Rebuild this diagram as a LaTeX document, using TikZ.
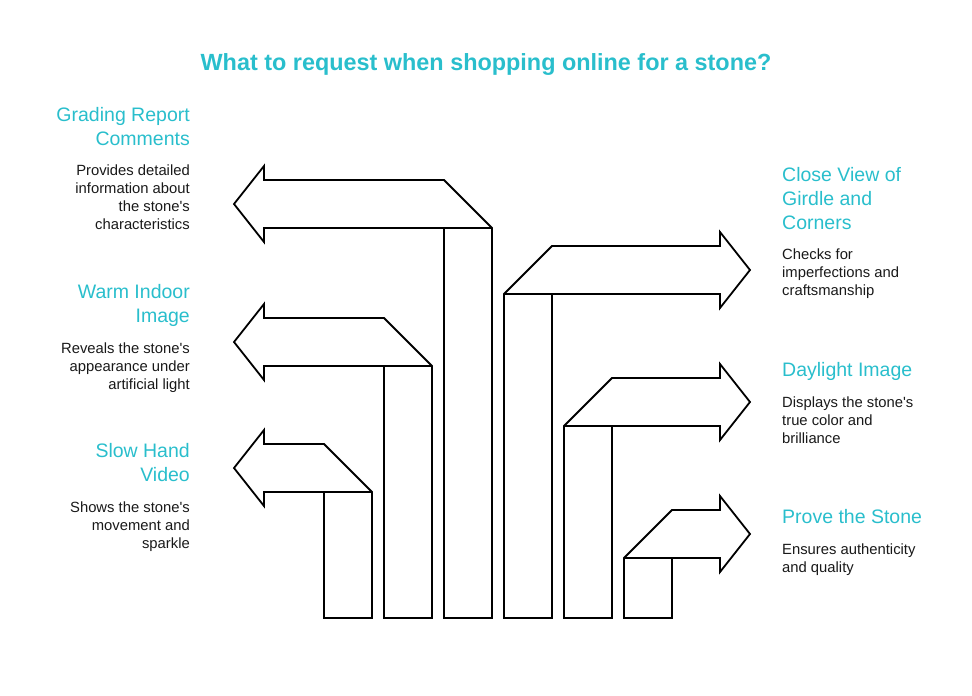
\documentclass[tikz,border=0pt]{standalone}
\usepackage{fontspec}
\setmainfont{Liberation Sans}[Ligatures=TeXOff]
\definecolor{stoneteal}{RGB}{41,190,204}
\tikzset{
  bent/.style={draw=black,line width=1.8pt,fill=white},
  headtext/.style={text=stoneteal,inner sep=0pt,font=\fontsize{19.5}{24}\selectfont},
  bodytext/.style={text=black!90,inner sep=0pt,font=\fontsize{14.8}{18}\selectfont},
}
\begin{document}
\begin{tikzpicture}[x=1pt,y=-1pt]
\useasboundingbox (0,0) rectangle (972,696);

\node[text=stoneteal,font=\bfseries\fontsize{23.4}{28}\selectfont] (title) at (486,65) {What to request when shopping online for a stone?};

% arrows pointing left
\foreach \xl/\yt in {444/228,384/366,324/492}{
  \draw[bent] (\xl,618) -- (\xl,\yt) -- (264,\yt) -- (264,{\yt+14}) -- (234,{\yt-24})
    -- (264,{\yt-62}) -- (264,{\yt-48}) -- ({\xl},{\yt-48}) -- ({\xl+48},\yt) -- ({\xl+48},618) -- cycle;
  \draw[bent] (\xl,\yt) -- ({\xl+48},\yt);
}
% arrows pointing right
\foreach \xl/\yt in {504/294,564/426,624/558}{
  \draw[bent] (\xl,618) -- (\xl,\yt) -- ({\xl+48},{\yt-48}) -- (720,{\yt-48}) -- (720,{\yt-62})
    -- (750,{\yt-24}) -- (720,{\yt+14}) -- (720,\yt) -- ({\xl+48},\yt) -- ({\xl+48},618) -- cycle;
  \draw[bent] (\xl,\yt) -- ({\xl+48},\yt);
}

% left column
\node[headtext,anchor=north east,align=right] (grading) at (190,107.5) {Grading Report\\Comments};
\node[bodytext,anchor=north east,align=right] (gradingtxt) at (190,164.5) {Provides detailed\\information about\\the stone's\\characteristics};
\node[headtext,anchor=north east,align=right] (warm) at (190,284.5) {Warm Indoor\\Image};
\node[bodytext,anchor=north east,align=right] (warmtxt) at (190,342.5) {Reveals the stone's\\appearance under\\artificial light};
\node[headtext,anchor=north east,align=right] (slow) at (190,443.5) {Slow Hand\\Video};
\node[bodytext,anchor=north east,align=right] (slowtxt) at (190,501.5) {Shows the stone's\\movement and\\sparkle};

% right column
\node[headtext,anchor=north west,align=left] (close) at (782,167.5) {Close View of\\Girdle and\\Corners};
\node[bodytext,anchor=north west,align=left] (closetxt) at (782,248.5) {Checks for\\imperfections and\\craftsmanship};
\node[headtext,anchor=north west,align=left] (daylight) at (782,362.5) {Daylight Image};
\node[bodytext,anchor=north west,align=left] (daylighttxt) at (782,396.5) {Displays the stone's\\true color and\\brilliance};
\node[headtext,anchor=north west,align=left] (prove) at (782,509.5) {Prove the Stone};
\node[bodytext,anchor=north west,align=left] (provetxt) at (782,543.5) {Ensures authenticity\\and quality};
\end{tikzpicture}
\end{document}
